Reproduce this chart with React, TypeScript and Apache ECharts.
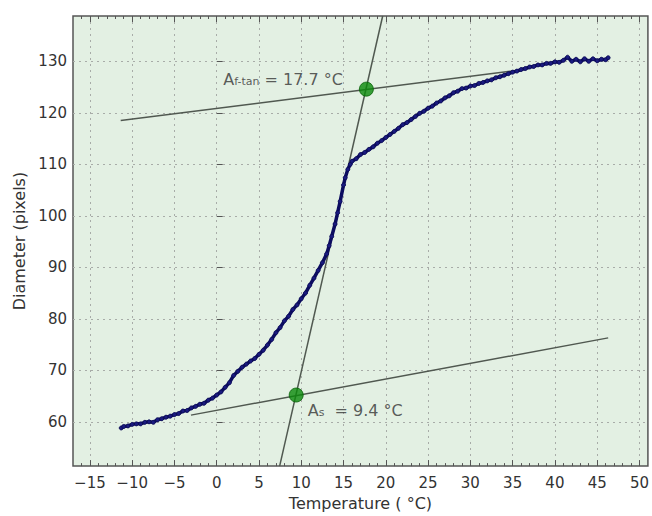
import React, { useEffect, useRef } from "react";
import * as echarts from "echarts";

// Measured diameter curve (temperature °C, diameter px)
const curveX = [
  -11.3, -11.0, -10.5, -10.0, -9.5, -9.0, -8.5, -8.0, -7.5, -7.0, -6.5, -6.0, -5.5, -5.0, -4.5, -4.0,
  -3.5, -3.0, -2.5, -2.0, -1.5, -1.0, -0.5, 0.0, 0.5, 1.0, 1.5, 2.0, 2.5, 3.0, 3.5, 4.0, 4.5, 5.0,
  5.5, 6.0, 6.5, 7.0, 7.5, 8.0, 8.5, 9.0, 9.5, 10.0, 10.5, 11.0, 11.5, 12.0, 12.5, 13.0, 13.3, 13.6,
  14.0, 14.3, 14.6, 15.0, 15.2, 15.5, 15.8, 16.0, 16.5, 17.0, 17.5, 18.0, 18.5, 19.0, 19.5, 20.0,
  20.5, 21.0, 21.5, 22.0, 22.5, 23.0, 23.5, 24.0, 24.5, 25.0, 25.5, 26.0, 26.5, 27.0, 27.5, 28.0,
  28.5, 29.0, 29.5, 30.0, 30.5, 31.0, 31.5, 32.0, 32.5, 33.0, 33.5, 34.0, 34.5, 35.0, 35.5, 36.0,
  36.5, 37.0, 37.5, 38.0, 38.5, 39.0, 39.5, 40.0, 40.5, 41.0, 41.5, 42.0, 42.5, 43.0, 43.5, 44.0,
  44.5, 45.0, 45.5, 46.0, 46.3,
];
const curveY = [
  58.8, 59.1, 59.2, 59.5, 59.6, 59.6, 59.9, 60.0, 59.9, 60.4, 60.6, 60.9, 61.1, 61.4, 61.6, 62.1,
  62.2, 62.7, 63.0, 63.4, 63.6, 64.2, 64.6, 65.2, 65.8, 66.7, 67.6, 69.0, 69.8, 70.6, 71.2, 71.8, 72.3, 73.1,
  73.9, 74.9, 76.0, 77.3, 78.3, 79.6, 80.5, 81.8, 82.7, 83.9, 85.0, 86.5, 87.9, 89.4, 90.9, 92.6, 94.2, 96.0,
  98.4, 100.6, 102.8, 106.0, 107.4, 109.0, 110.0, 110.6, 111.1, 111.9, 112.3, 112.9, 113.4, 114.1, 114.6, 115.2,
  115.8, 116.4, 117.0, 117.7, 118.1, 118.7, 119.3, 119.9, 120.3, 120.9, 121.3, 121.9, 122.3, 122.9, 123.3, 123.9,
  124.2, 124.7, 124.8, 125.2, 125.3, 125.7, 125.9, 126.2, 126.4, 126.8, 127.0, 127.3, 127.6, 127.9, 128.1, 128.4,
  128.6, 128.9, 129.0, 129.3, 129.3, 129.6, 129.6, 129.9, 129.8, 130.2, 130.8, 130.0, 130.4, 129.9, 130.5, 130.0,
  130.5, 130.1, 130.4, 130.3, 130.7,
];

// Tangent lines [x, y] end points
const lowerTangent = [[-3.05, 61.3], [46.3, 76.3]];
const upperTangent = [[-11.36, 118.5], [35.9, 128.3]];
const steepTangent = [[7.44, 51.4], [19.63, 138.8]];

// Intersection markers
const asPoint = [9.4, 65.2];
const afPoint = [17.7, 124.6];

const xMin = -17;
const xMax = 51;
const yMin = 51.4;
const yMax = 138.8;
const xMajorTicks = [-15, -10, -5, 0, 5, 10, 15, 20, 25, 30, 35, 40, 45, 50];
const xMinorTicks = [
  -16, -14, -13, -12, -11, -9, -8, -7, -6, -4, -3, -2, -1, 1, 2, 3, 4, 6, 7, 8, 9, 11, 12, 13, 14,
  16, 17, 18, 19, 21, 22, 23, 24, 26, 27, 28, 29, 31, 32, 33, 34, 36, 37, 38, 39, 41, 42, 43, 44,
  46, 47, 48, 49,
];
const yMajorTicks = [60, 70, 80, 90, 100, 110, 120, 130];

const FONT = "DejaVu Sans";
const TXT = "#333333";
const SPINE = "#555555";
const GRIDC = "#a8aca8";

const fmtMinus = (v: number) => (v < 0 ? "\u2212" + Math.abs(v) : String(v));

export default function App() {
  const ref = useRef<HTMLDivElement>(null);
  useEffect(() => {
    if (!ref.current) return;
    const chart = echarts.init(ref.current, undefined, { renderer: "svg" });
    const baseX = {
      type: "value" as const,
      min: xMin,
      max: xMax,
      gridIndex: 0,
    };
    const richStyles = {
      a: { fontSize: 16, color: TXT, fontFamily: FONT, lineHeight: 20, verticalAlign: "bottom" },
      sub: { fontSize: 11, color: TXT, fontFamily: FONT, lineHeight: 5, verticalAlign: "bottom" },
    };
    const option = {
      animation: false,
      backgroundColor: "#ffffff",
      textStyle: { fontFamily: FONT },
      grid: {
        left: 73,
        top: 16,
        width: 579,
        height: 455,
        show: true,
        backgroundColor: "#e3f0e3",
        borderColor: SPINE,
        borderWidth: 1.5,
      },
      xAxis: [
        {
          ...baseX,
          position: "bottom",
          name: "Temperature ( \u00B0C)",
          nameLocation: "middle",
          nameGap: 28,
          nameTextStyle: { color: TXT, fontSize: 16, fontFamily: FONT },
          axisLine: { show: false },
          axisTick: { show: true, inside: true, length: 6, customValues: xMajorTicks, lineStyle: { color: SPINE, width: 1 } },
          axisLabel: { show: true, customValues: xMajorTicks, margin: 9, color: TXT, fontSize: 15, fontFamily: FONT, formatter: fmtMinus },
          splitLine: { show: true, lineStyle: { color: GRIDC, type: [2, 4], width: 1 } },
        },
        {
          ...baseX,
          position: "top",
          axisLine: { show: false },
          axisTick: { show: true, inside: true, length: 6, customValues: xMajorTicks, lineStyle: { color: SPINE, width: 1 } },
          axisLabel: { show: false },
          splitLine: { show: false },
        },
        {
          ...baseX,
          position: "bottom",
          axisLine: { show: false },
          axisTick: { show: true, inside: true, length: 3, customValues: xMinorTicks, lineStyle: { color: SPINE, width: 1 } },
          axisLabel: { show: false },
          splitLine: { show: false },
        },
        {
          ...baseX,
          position: "top",
          axisLine: { show: false },
          axisTick: { show: true, inside: true, length: 3, customValues: xMinorTicks, lineStyle: { color: SPINE, width: 1 } },
          axisLabel: { show: false },
          splitLine: { show: false },
        },
      ],
      yAxis: [
        {
          type: "value",
          min: yMin,
          max: yMax,
          position: "left",
          name: "Diameter (pixels)",
          nameLocation: "middle",
          nameGap: 43,
          nameTextStyle: { color: TXT, fontSize: 16, fontFamily: FONT },
          axisLine: { show: false },
          axisTick: { show: true, inside: true, length: 6, customValues: yMajorTicks, lineStyle: { color: SPINE, width: 1 } },
          axisLabel: { show: true, customValues: yMajorTicks, margin: 6, color: TXT, fontSize: 15, fontFamily: FONT },
          splitLine: { show: true, lineStyle: { color: GRIDC, type: [2, 4], width: 1 } },
        },
      ],
      series: [
        {
          type: "line",
          name: "lower tangent",
          data: lowerTangent,
          symbol: "none",
          lineStyle: { color: "#505850", width: 1.5 },
          z: 2,
        },
        {
          type: "line",
          name: "upper tangent",
          data: upperTangent,
          symbol: "none",
          lineStyle: { color: "#505850", width: 1.5 },
          z: 2,
        },
        {
          type: "line",
          name: "steep tangent",
          data: steepTangent,
          symbol: "none",
          lineStyle: { color: "#505850", width: 1.5 },
          z: 2,
        },
        {
          type: "line",
          name: "diameter",
          data: curveX.map((x, i) => [x, curveY[i]]),
          symbol: "circle",
          symbolSize: 4,
          showSymbol: true,
          itemStyle: { color: "#1a1a80", borderColor: "#0a0a50", borderWidth: 0.8 },
          lineStyle: { color: "#0c0c60", width: 3.5 },
          z: 3,
        },
        {
          type: "scatter",
          name: "points",
          symbolSize: 14,
          itemStyle: { color: "#0a8a0a", borderColor: "#066006", borderWidth: 1 },
          z: 5,
          data: [
            {
              value: afPoint,
              label: {
                show: true,
                position: "left",
                distance: 16,
                offset: [0, -12],
                formatter: "{a|A}{sub|f-tan}{a| = 17.7 \u00B0C}",
                rich: richStyles,
              },
            },
            {
              value: asPoint,
              label: {
                show: true,
                position: "right",
                distance: 4,
                offset: [0, 13],
                formatter: "{a|A}{sub|s}{a|  = 9.4 \u00B0C}",
                rich: richStyles,
              },
            },
          ],
        },
      ],
    };
    chart.setOption(option as any);
    return () => chart.dispose();
  }, []);
  return <div ref={ref} style={{ width: 652, height: 516, position: "absolute", left: 0, top: 0 }} />;
}
